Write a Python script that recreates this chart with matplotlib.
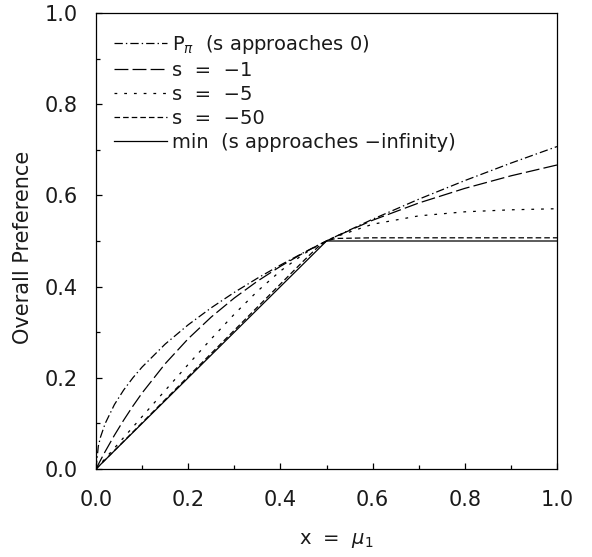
import matplotlib
matplotlib.use("Agg")
import matplotlib.pyplot as plt
from matplotlib.ticker import MultipleLocator, FormatStrFormatter

plt.rcParams['font.family'] = ['DejaVu Sans']
plt.rcParams['mathtext.fontset'] = 'dejavusans'
plt.rcParams['lines.scale_dashes'] = False

# x grid (mu_1)
x = [0.0, 0.005, 0.01, 0.02, 0.04, 0.06, 0.08, 0.1, 0.15, 0.2, 0.25, 0.3,
     0.35, 0.4, 0.45, 0.48, 0.5, 0.52, 0.6, 0.7, 0.8, 0.9, 1.0]

# P_pi (s approaches 0)
p_pi = [0.0, 0.050, 0.0707, 0.100, 0.1414, 0.1732, 0.200, 0.2236, 0.2739,
        0.3162, 0.3536, 0.3873, 0.4183, 0.4472, 0.4743, 0.4899, 0.500,
        0.5099, 0.5477, 0.5916, 0.6325, 0.6708, 0.7071]
# s = -1
s_m1 = [0.0, 0.0099, 0.0196, 0.0385, 0.0741, 0.1071, 0.1379, 0.1667, 0.2308,
        0.2857, 0.3333, 0.375, 0.4118, 0.4444, 0.4737, 0.4898, 0.500,
        0.5098, 0.5455, 0.5833, 0.6154, 0.6429, 0.6667]
# s = -5
s_m5 = [0.0, 0.0057, 0.0115, 0.0230, 0.0459, 0.0689, 0.0919, 0.1149, 0.1722,
        0.2293, 0.2854, 0.3395, 0.3897, 0.4342, 0.4711, 0.4894, 0.500,
        0.5094, 0.5368, 0.5551, 0.5640, 0.5684, 0.5708]
# s = -50
s_m50 = [0.0, 0.0051, 0.0101, 0.0203, 0.0406, 0.0608, 0.0811, 0.1014, 0.1521,
         0.2028, 0.2535, 0.3042, 0.3549, 0.4056, 0.4562, 0.4855, 0.500,
         0.5056, 0.5070, 0.5070, 0.5070, 0.5070, 0.5070]
# min (s approaches -infinity)
s_min = [0.0, 0.005, 0.01, 0.02, 0.04, 0.06, 0.08, 0.1, 0.15, 0.2, 0.25, 0.3,
         0.35, 0.4, 0.45, 0.48, 0.5, 0.5, 0.5, 0.5, 0.5, 0.5, 0.5]

labels = [r'P$_{\pi}$  (s approaches 0)', 's  =  \u22121', 's  =  \u22125',
          's  =  \u221250', 'min  (s approaches \u2212infinity)']

TXT = '#1a1a1a'
fig = plt.figure(figsize=(5.92, 5.57), dpi=100)
ax = fig.add_axes([96/592, 1-469/557, (557-96)/592, (469-13)/557])

lw = 0.9
ax.plot(x, p_pi, color='black', lw=lw, dashes=(6, 2.2, 1, 2.2), label=labels[0])
ax.plot(x, s_m1, color='black', lw=lw, dashes=(10, 3), label=labels[1])
ax.plot(x, s_m5, color='black', lw=lw, dashes=(2, 5), label=labels[2])
ax.plot(x, s_m50, color='black', lw=lw, dashes=(4, 2.2), label=labels[3])
ax.plot(x, s_min, color='black', lw=lw, label=labels[4])

ax.set_xlim(0, 1)
ax.set_ylim(0, 1)
ax.xaxis.set_major_locator(MultipleLocator(0.2))
ax.xaxis.set_minor_locator(MultipleLocator(0.1))
ax.yaxis.set_major_locator(MultipleLocator(0.2))
ax.yaxis.set_minor_locator(MultipleLocator(0.1))
ax.xaxis.set_major_formatter(FormatStrFormatter('%.1f'))
ax.yaxis.set_major_formatter(FormatStrFormatter('%.1f'))
ax.tick_params(which='both', direction='in', top=False, right=False,
               width=0.9, labelsize=15, labelcolor=TXT)
ax.tick_params(axis='x', which='major', length=4.5, pad=15)
ax.tick_params(axis='x', which='minor', length=3, pad=15)
ax.tick_params(axis='y', which='major', length=4.5, pad=13)
ax.tick_params(axis='y', which='minor', length=3, pad=13)
for sp in ax.spines.values():
    sp.set_linewidth(0.9)

fig.text(23/592, 1-247/557, 'Overall Preference', rotation=90,
         ha='center', va='center', fontsize=15, color=TXT)
fig.text(336/592, 1-541/557, r'x  =  $\mu_1$', ha='center', va='center',
         fontsize=14, color=TXT)

leg = ax.legend(loc='upper left', bbox_to_anchor=(18/461, 1-20/456),
                frameon=False, fontsize=14, handlelength=2.7,
                handletextpad=0.3, labelspacing=0.26, borderaxespad=0,
                borderpad=0, labelcolor=TXT)

fig.savefig('out.png', dpi=100)
